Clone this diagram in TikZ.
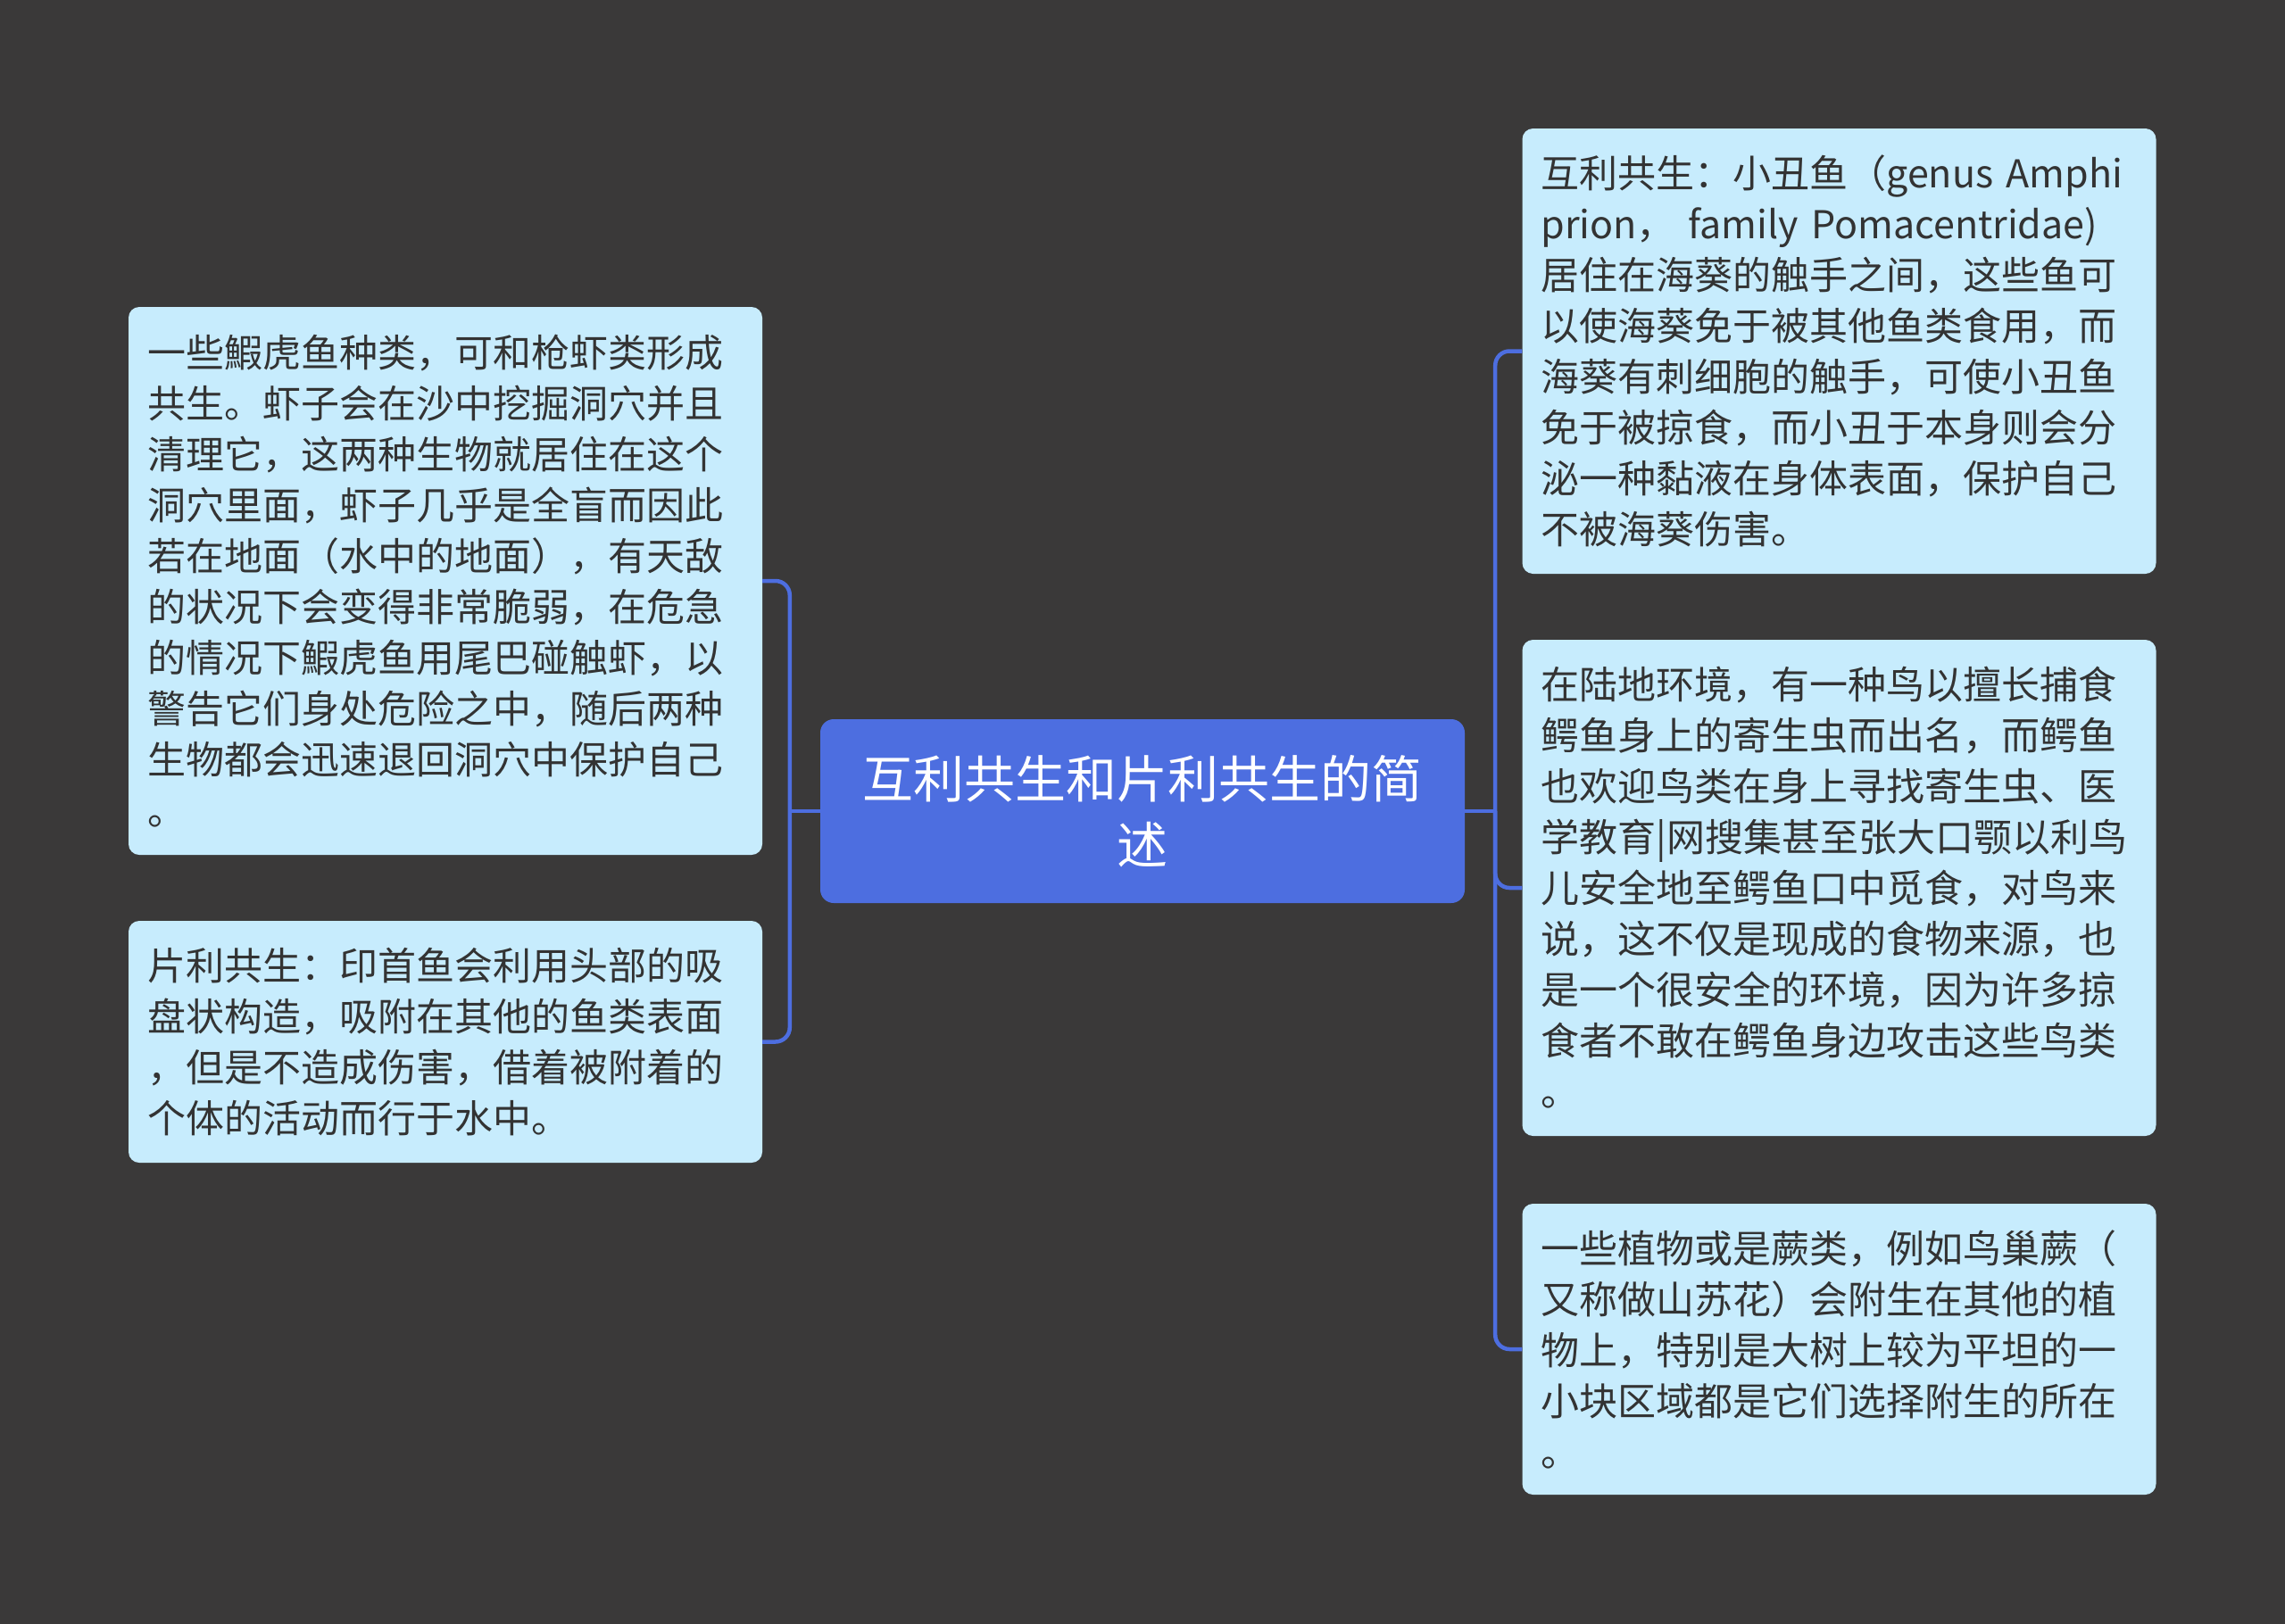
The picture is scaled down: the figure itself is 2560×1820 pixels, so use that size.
\documentclass[tikz,border=0pt]{standalone}
\usepackage{fontspec}
\setmainfont{Noto Sans CJK SC}
\definecolor{bgc}{HTML}{3A3939}
\definecolor{mainc}{HTML}{4D6EE0}
\definecolor{leaffill}{HTML}{C7ECFD}
\definecolor{txtc}{HTML}{333333}
\begin{document}
\begin{tikzpicture}[x=1pt,y=-1pt,
  leaf/.style={fill=leaffill, rounded corners=12pt, text=txtc,
    font=\fontsize{43}{57}\selectfont, align=left, inner xsep=21pt,
    inner ysep=0pt, text width=668pt, anchor=center},
  root/.style={fill=mainc, rounded corners=15pt, text=white,
    font=\fontsize{57}{74}\selectfont, align=center, inner sep=0pt,
    minimum width=722pt, minimum height=206pt, anchor=center},
  conn/.style={draw=mainc, line width=4.5pt, rounded corners=16pt}]
\useasboundingbox (0,0) rectangle (2560,1820);
\fill[bgc] (0,0) rectangle (2560,1820);

\node[root] (c) at (1280,909) {互利共生和片利共生的简\\述};

\node[leaf, minimum height=614pt] (lt) at (499,651) {一些鰕虎鱼种类，可和枪虾类形成\\共生。虾子会在沙中挖掘洞穴并且\\清理它，这两种生物就居住在这个\\洞穴里面，虾子几乎是全盲而因此\\若在地面（水中的地面），有天敌\\的状况下会变得非常脆弱，在危急\\的情况下鰕虎鱼用尾巴碰触虾，以\\警告它们身处危险之中，随后两种\\生物都会迅速退回洞穴中保护自己\\。};

\node[leaf, minimum height=271pt] (lb) at (499,1167.5) {片利共生：印首鱼会利用头部的吸\\盘状构造，吸附在其他的鱼类表面\\，但是不造成伤害，借着被附着的\\个体的活动而行于水中。};

\node[leaf, minimum height=499pt] (r1) at (2060.5,393.5) {互利共生：小丑鱼（genus Amphi\\prion，\ family Pomacentridae)\\居住在海葵的触手之间，这些鱼可\\以使海葵免于被其他鱼类食用，而\\海葵有刺细胞的触手，可使小丑鱼\\免于被掠食，而小丑于本身则会分\\泌一种黏液在身体表面，保护自己\\不被海葵伤害。};

\node[leaf, minimum height=556pt] (r2) at (2060.5,995) {在陆地环境，有一种鸟以擅长捕食\\鳄鱼身上的寄生虫而出名，而鳄鱼\\也欢迎鸟类在身上寻找寄生虫、医\\学教育|网搜集甚至张大口颚以利鸟\\儿安全地至鳄鱼口中觅食，对鸟来\\说，这不仅是现成的食物来源，也\\是一个很安全的环境，因为许多掠\\食者不敢在鳄鱼身边攻击这些鸟类\\。};

\node[leaf, minimum height=326pt] (r3) at (2060.5,1512) {一些植物或是蕨类，例如鸟巢蕨（\\又称做山苏花）会附生在其他的植\\物上，特别是大树上较为平坦的一\\小块区域都是它们选择附生的所在\\。};

\coordinate (tL) at ([xshift=-34pt]c.west);
\coordinate (tR) at ([xshift=34pt]c.east);

\draw[conn] (c.west) -- (tL);
\draw[conn] (lt.east) -| (tL) |- (lb.east);
\draw[conn] (c.east) -- (tR);
\draw[conn] (tR) |- (r1.west);
\draw[conn] (tR) |- (r2.west);
\draw[conn] (tR) |- (r3.west);
\end{tikzpicture}
\end{document}
